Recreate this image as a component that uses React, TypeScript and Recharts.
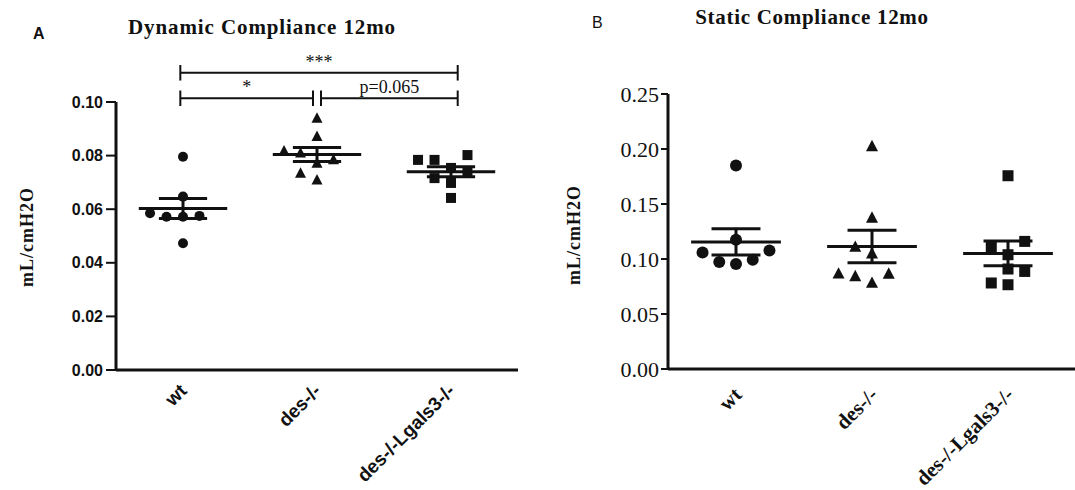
import React from 'react'
import { ScatterChart, Scatter, XAxis, YAxis, ReferenceLine } from 'recharts'

/* ------------------------------------------------------------------ */
/*  Data                                                               */
/* ------------------------------------------------------------------ */

const GROUPS = ['wt', 'des-/-', 'des-/-Lgals3-/-']

// dynamic compliance, mL/cmH2O
const dynWt = [0.0796, 0.0647, 0.0585, 0.0575, 0.0572, 0.0572, 0.0473]
const dynDes = [0.0939, 0.0871, 0.0817, 0.0809, 0.0784, 0.0771, 0.0734, 0.0709]
const dynLgals = [0.0802, 0.0784, 0.0784, 0.0754, 0.074, 0.0716, 0.0698, 0.0642]

// static compliance, mL/cmH2O
const statWt = [0.185, 0.1175, 0.1078, 0.106, 0.0994, 0.0973, 0.0955]
const statDes = [0.2024, 0.1373, 0.1109, 0.1048, 0.0866, 0.0864, 0.0842, 0.0782]
const statLgals = [0.1757, 0.116, 0.1109, 0.1039, 0.0909, 0.0887, 0.0782, 0.0766]

const DYN_TICKS = [0, 0.02, 0.04, 0.06, 0.08, 0.1]
const STAT_TICKS = [0, 0.05, 0.1, 0.15, 0.2, 0.25]

/* ------------------------------------------------------------------ */
/*  Helpers                                                            */
/* ------------------------------------------------------------------ */

const INK = '#111'
const SERIF = '"Liberation Serif", "Times New Roman", serif'
const SANS = '"Liberation Sans", Arial, sans-serif'

const COL_STEP = 0.123
const MEAN_HALF = 0.33
const SEM_HALF = 0.18

const mean = (v: number[]) => v.reduce((s, x) => s + x, 0) / v.length
const sem = (v: number[]) => {
  const m = mean(v)
  return Math.sqrt(v.reduce((s, x) => s + (x - m) ** 2, 0) / (v.length - 1) / v.length)
}

// column-scatter layout: each point goes into the nearest free column (0, -1, +1, -2, ...)
function swarm(values: number[], group: number, pxPerUnit: number) {
  const minGap = 14 / pxPerUnit
  const placed: { y: number; col: number }[] = []
  return [...values]
    .sort((a, b) => a - b)
    .map((y) => {
      let col = 0
      for (let k = 0; ; k++) {
        col = k === 0 ? 0 : k % 2 ? -(k + 1) / 2 : k / 2
        if (!placed.some((p) => p.col === col && Math.abs(p.y - y) < minGap)) break
      }
      placed.push({ y, col })
      return { x: group + col * COL_STEP, y }
    })
}

function summaryLines(sets: number[][], key: string) {
  return sets.flatMap((vals, g) => {
    const m = mean(vals)
    const s = sem(vals)
    const segs: [number, number, number, number][] = [
      [g - MEAN_HALF, m, g + MEAN_HALF, m],
      [g - SEM_HALF, m + s, g + SEM_HALF, m + s],
      [g - SEM_HALF, m - s, g + SEM_HALF, m - s],
      [g, m - s, g, m + s],
    ]
    return segs.map(([x1, y1, x2, y2], i) => (
      <ReferenceLine
        key={`${key}-${g}-${i}`}
        segment={[
          { x: x1, y: y1 },
          { x: x2, y: y2 },
        ]}
        stroke={INK}
        strokeWidth={3}
      />
    ))
  })
}

const dot = (r: number) => (p: any) => <circle cx={p.cx} cy={p.cy} r={r} fill={INK} />
const tri = (s: number) => (p: any) => (
  <polygon
    points={`${p.cx},${p.cy - s * 0.55} ${p.cx - s / 2},${p.cy + s * 0.4} ${p.cx + s / 2},${p.cy + s * 0.4}`}
    fill={INK}
  />
)
const square = (s: number) => (p: any) => (
  <rect x={p.cx - s / 2} y={p.cy - s / 2} width={s} height={s} fill={INK} />
)

const groupTick =
  (family: string, size: number, dx: number, dy: number) =>
  (props: any) => {
    const { x, y, payload } = props
    const ax = x + dx
    const ay = y + dy
    return (
      <text
        x={ax}
        y={ay}
        transform={`rotate(-45 ${ax} ${ay})`}
        textAnchor="end"
        fontFamily={family}
        fontSize={size}
        fontWeight={700}
        fill={INK}
      >
        {GROUPS[payload.value]}
      </text>
    )
  }

/* ------------------------------------------------------------------ */
/*  Panels                                                             */
/* ------------------------------------------------------------------ */

// plot area A: 402 x 268 px, B: 408 x 275 px
const DYN_PX = 268 / 0.1
const STAT_PX = 275 / 0.25

function bracket(x1: number, x2: number, y: number, tick: number, label: string, size: number, key: string) {
  const seg = (ax: number, ay: number, bx: number, by: number) => [
    { x: ax, y: ay },
    { x: bx, y: by },
  ]
  return [
    <ReferenceLine
      key={`${key}-h`}
      segment={seg(x1, y, x2, y)}
      ifOverflow="visible"
      stroke={INK}
      strokeWidth={2}
      label={{ value: label, position: 'top', offset: 5, fill: INK, fontSize: size, fontFamily: SERIF }}
    />,
    <ReferenceLine key={`${key}-l`} segment={seg(x1, y - tick, x1, y + tick)} ifOverflow="visible" stroke={INK} strokeWidth={2} />,
    <ReferenceLine key={`${key}-r`} segment={seg(x2, y - tick, x2, y + tick)} ifOverflow="visible" stroke={INK} strokeWidth={2} />,
  ]
}

function DynamicPanel() {
  return (
    <ScatterChart width={545} height={490} margin={{ top: 102, right: 27, bottom: 90, left: 56 }}>
      <XAxis
        type="number"
        dataKey="x"
        domain={[-0.5, 2.5]}
        ticks={[0, 1, 2]}
        height={30}
        tickSize={0}
        tickMargin={0}
        tickLine={false}
        axisLine={{ stroke: INK, strokeWidth: 3 }}
        tick={groupTick(SANS, 19, 5, 22)}
      />
      <YAxis
        type="number"
        dataKey="y"
        domain={[0, 0.1]}
        ticks={DYN_TICKS}
        width={60}
        tickSize={10}
        tickMargin={3}
        tickFormatter={(v: number) => v.toFixed(2)}
        tick={{ fill: INK, fontSize: 16, fontFamily: SANS, fontWeight: 700 }}
        tickLine={{ stroke: INK, strokeWidth: 2 }}
        axisLine={{ stroke: INK, strokeWidth: 3 }}
      />
      <Scatter data={swarm(dynWt, 0, DYN_PX)} shape={dot(5)} isAnimationActive={false} />
      <Scatter data={swarm(dynDes, 1, DYN_PX)} shape={tri(11)} isAnimationActive={false} />
      <Scatter data={swarm(dynLgals, 2, DYN_PX)} shape={square(10)} isAnimationActive={false} />
      {summaryLines([dynWt, dynDes, dynLgals], 'dyn')}
      {bracket(-0.02, 2.05, 0.1109, 0.0029, '***', 18, 'b3')}
      {bracket(-0.02, 0.97, 0.1014, 0.0029, '*', 18, 'b1')}
      {bracket(1.03, 2.05, 0.1014, 0.0029, 'p=0.065', 18, 'bp')}
    </ScatterChart>
  )
}

function StaticPanel() {
  return (
    <ScatterChart width={540} height={490} margin={{ top: 94, right: 9, bottom: 91, left: 63 }}>
      <XAxis
        type="number"
        dataKey="x"
        domain={[-0.5, 2.5]}
        ticks={[0, 1, 2]}
        height={30}
        tickSize={0}
        tickMargin={0}
        tickLine={false}
        axisLine={{ stroke: INK, strokeWidth: 3 }}
        tick={groupTick(SERIF, 21, 7, 27)}
      />
      <YAxis
        type="number"
        dataKey="y"
        domain={[0, 0.25]}
        ticks={STAT_TICKS}
        width={60}
        tickSize={7}
        tickMargin={2}
        tickFormatter={(v: number) => v.toFixed(2)}
        tick={{ fill: INK, fontSize: 22, fontFamily: SERIF }}
        tickLine={{ stroke: INK, strokeWidth: 2 }}
        axisLine={{ stroke: INK, strokeWidth: 3 }}
      />
      <Scatter data={swarm(statWt, 0, STAT_PX)} shape={dot(6)} isAnimationActive={false} />
      <Scatter data={swarm(statDes, 1, STAT_PX)} shape={tri(12)} isAnimationActive={false} />
      <Scatter data={swarm(statLgals, 2, STAT_PX)} shape={square(11)} isAnimationActive={false} />
      {summaryLines([statWt, statDes, statLgals], 'stat')}
    </ScatterChart>
  )
}

/* ------------------------------------------------------------------ */
/*  Page                                                               */
/* ------------------------------------------------------------------ */

export default function App() {
  return (
    <div
      style={{
        position: 'absolute',
        left: 0,
        top: 0,
        width: 1075,
        height: 490,
        overflow: 'hidden',
        background: '#fff',
      }}
    >
      <div style={{ position: 'absolute', left: 0, top: 0 }}>
        <DynamicPanel />
      </div>
      <div style={{ position: 'absolute', left: 545, top: 0 }}>
        <StaticPanel />
      </div>
      <svg
        width={1075}
        height={490}
        style={{ position: 'absolute', left: 0, top: 0, pointerEvents: 'none' }}
      >
        <text x={33} y={39} fontFamily={SANS} fontWeight={700} fontSize={16} fill={INK}>
          A
        </text>
        <text x={262} y={34} textAnchor="middle" fontFamily={SERIF} fontWeight={700} fontSize={21} letterSpacing={0.9} fill={INK}>
          Dynamic Compliance 12mo
        </text>
        <text x={33} y={237} transform="rotate(-90 33 237)" textAnchor="middle" fontFamily={SERIF} fontWeight={700} fontSize={18} letterSpacing={1} fill={INK}>
          mL/cmH2O
        </text>
        <text x={592} y={28} fontFamily={SANS} fontSize={16} fill={INK}>
          B
        </text>
        <text x={812} y={24} textAnchor="middle" fontFamily={SERIF} fontWeight={700} fontSize={21} letterSpacing={0.7} fill={INK}>
          Static Compliance 12mo
        </text>
        <text x={580} y={235} transform="rotate(-90 580 235)" textAnchor="middle" fontFamily={SERIF} fontWeight={700} fontSize={18} letterSpacing={1} fill={INK}>
          mL/cmH2O
        </text>
      </svg>
    </div>
  )
}
